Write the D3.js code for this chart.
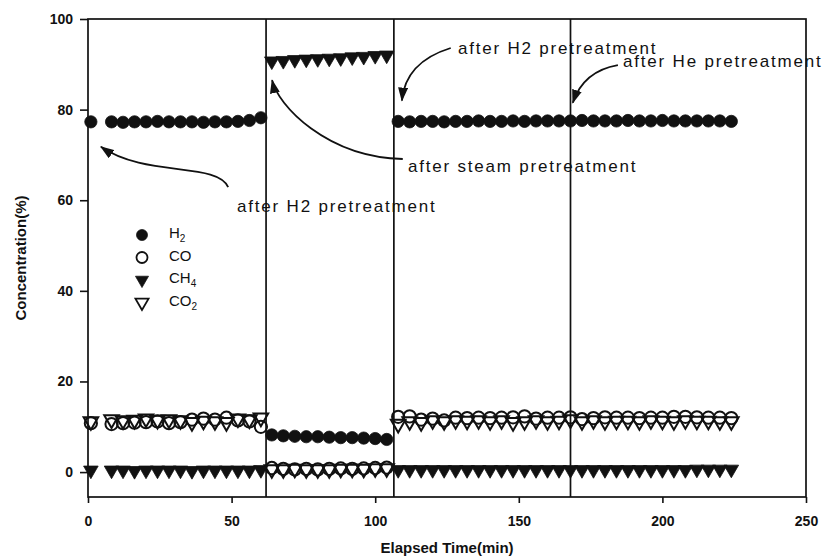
<!DOCTYPE html>
<html>
<head>
	<meta charset="UTF-8">
	<script src="https://d3js.org/d3.v7.min.js"></script>
	<style>
		body{ margin:0; background:#fff; }
		svg text{ font-family:"Liberation Sans", Arial, sans-serif; fill:#111; }
	</style>
</head>
<body>
<div id="chart"></div>
<script type="text/javascript">
// elapsed time of each sample (min)
var timeMin = [1, 8.2, 12.2, 16.2, 20.2, 24.2, 28.2, 32.2, 36.2, 40.2, 44.2, 48.2, 52.2, 56.2, 60.2,
	64, 68, 72, 76, 80, 84, 88, 92, 96, 100, 104,
	108, 112, 116, 120, 124, 128, 132, 136, 140, 144, 148, 152, 156, 160, 164, 168, 172, 176, 180,
	184, 188, 192, 196, 200, 204, 208, 212, 216, 220, 224];

var h2 = [77.3, 77.3, 77.2, 77.3, 77.3, 77.4, 77.3, 77.3, 77.3, 77.2, 77.3, 77.3, 77.4, 77.6, 78.2,
	8.2, 8.0, 7.9, 7.8, 7.8, 7.7, 7.6, 7.6, 7.5, 7.4, 7.2,
	77.4, 77.3, 77.4, 77.4, 77.3, 77.4, 77.4, 77.5, 77.4, 77.4, 77.5, 77.4, 77.5, 77.5, 77.5,
	77.5, 77.6, 77.5, 77.5, 77.5, 77.6, 77.5, 77.5, 77.6, 77.5, 77.5, 77.5, 77.5, 77.5, 77.4];

var co = [10.8, 10.6, 10.8, 10.9, 11.0, 11.2, 10.8, 11.0, 11.6, 11.8, 11.6, 12.0, 11.4, 11.2, 10.0,
	0.9, 0.7, 0.6, 0.7, 0.6, 0.7, 0.8, 0.7, 0.8, 0.9, 1.0,
	12.2, 12.3, 11.6, 11.8, 11.4, 12.0, 11.9, 12.0, 11.9, 12.0, 12.1, 12.3, 11.8, 12.0, 12.0,
	12.1, 11.7, 11.9, 12.1, 12.0, 12.0, 11.9, 12.0, 12.0, 12.2, 12.2, 12.1, 12.0, 12.0, 11.9];

var ch4 = [0.4, 0.4, 0.4, 0.3, 0.4, 0.4, 0.4, 0.4, 0.3, 0.4, 0.4, 0.4, 0.4, 0.4, 0.5,
	90.7, 90.8, 91.0, 91.1, 91.2, 91.3, 91.4, 91.6, 91.7, 91.9, 92.0,
	0.5, 0.5, 0.5, 0.5, 0.5, 0.5, 0.5, 0.5, 0.5, 0.5, 0.5, 0.5, 0.5, 0.5, 0.5,
	0.5, 0.5, 0.5, 0.5, 0.5, 0.5, 0.5, 0.5, 0.5, 0.5, 0.5, 0.6, 0.6, 0.6, 0.6];

var co2 = [11.2, 11.6, 11.4, 11.5, 11.8, 11.5, 11.6, 11.4, 11.0, 11.3, 11.2, 11.0, 11.8, 11.6, 12.0,
	0.6, 0.6, 0.7, 0.6, 0.6, 0.6, 0.7, 0.7, 0.7, 0.8, 0.8,
	10.6, 11.2, 11.0, 11.4, 11.2, 11.4, 11.3, 11.4, 11.2, 11.4, 11.0, 11.2, 11.4, 11.2, 11.3,
	11.6, 11.2, 11.4, 11.2, 11.3, 11.3, 11.2, 11.4, 11.3, 11.2, 11.4, 11.3, 11.3, 11.2, 11.2];

// time at which the gas feed was switched (vertical lines)
var switchTimes = [62, 106.5, 168];

var xTicks = [0, 50, 100, 150, 200, 250];
var yTicks = [0, 20, 40, 60, 80, 100];

var W = 826, H = 559;
var l = 88, r = 806, t = 19, b = 497;

var svg = d3.select("#chart").append("svg")
	.attr("width", W).attr("height", H);

var xScale = d3.scaleLinear().domain([0, 250]).range([l, r]);
var yScale = d3.scaleLinear().domain([-5.5, 100]).range([b, t]);

//axes
var xAxis = d3.axisBottom(xScale).tickValues(xTicks).tickSize(6).tickSizeOuter(0).tickPadding(13);
var yAxis = d3.axisLeft(yScale).tickValues(yTicks).tickSize(8).tickSizeOuter(0).tickPadding(7);

var gx = svg.append("g").attr("transform", "translate(0," + b + ")").call(xAxis);
var gy = svg.append("g").attr("transform", "translate(" + l + ",0)").call(yAxis);
[gx, gy].forEach(function(g){
	g.select(".domain").remove();
	g.selectAll("line").attr("stroke", "#111").attr("stroke-width", 1.6);
	g.selectAll("text").attr("font-size", "14px").attr("font-weight", "bold")
		.attr("font-family", "'Liberation Sans', Arial, sans-serif").attr("fill", "#111");
});

//frame
svg.append("rect").attr("x", l).attr("y", t).attr("width", r - l).attr("height", b - t)
	.attr("fill", "none").attr("stroke", "#111").attr("stroke-width", 1.7);

//switch lines
svg.selectAll("line.sw").data(switchTimes).enter().append("line")
	.attr("class", "sw")
	.attr("x1", function(d){ return xScale(d); })
	.attr("x2", function(d){ return xScale(d); })
	.attr("y1", t).attr("y2", b)
	.attr("stroke", "#111").attr("stroke-width", 1.7);

//markers
var circ = d3.symbol(d3.symbolCircle, 118)();
var tri = d3.symbol(d3.symbolTriangle, 92)();

var series = [
	{ name: "CO", vals: co, path: circ, rot: 0, fill: "none" },
	{ name: "CO2", vals: co2, path: tri, rot: 180, fill: "none" },
	{ name: "CH4", vals: ch4, path: tri, rot: 180, fill: "#111" },
	{ name: "H2", vals: h2, path: circ, rot: 0, fill: "#111" }
];

series.forEach(function(s){
	svg.append("g").selectAll("path")
		.data(s.vals)
		.enter()
		.append("path")
		.attr("d", s.path)
		.attr("transform", function(d, i){
			return "translate(" + xScale(timeMin[i]) + "," + yScale(d) + ") rotate(" + s.rot + ")";
		})
		.attr("fill", s.fill)
		.attr("stroke", "#111")
		.attr("stroke-width", s.fill == "none" ? 2 : 0.8);
});

//legend
var legend = [
	{ lab: "H", sub: "2", path: circ, rot: 0, fill: "#111" },
	{ lab: "CO", sub: "", path: circ, rot: 0, fill: "none" },
	{ lab: "CH", sub: "4", path: tri, rot: 180, fill: "#111" },
	{ lab: "CO", sub: "2", path: tri, rot: 180, fill: "none" }
];
var lg = svg.append("g");
legend.forEach(function(d, i){
	var yy = 235 + i * 22.5;
	lg.append("path").attr("d", d.path)
		.attr("transform", "translate(142," + yy + ") rotate(" + d.rot + ") scale(0.9)")
		.attr("fill", d.fill).attr("stroke", "#111").attr("stroke-width", d.fill == "none" ? 2 : 0.8);
	var tx = lg.append("text").attr("x", 169).attr("y", yy + 3).attr("font-size", "15px").text(d.lab);
	if(d.sub) tx.append("tspan").attr("dy", 4).attr("font-size", "10px").text(d.sub);
});

//annotations, positions in data units
svg.append("defs").append("marker")
	.attr("id", "head").attr("viewBox", "0 0 14 10")
	.attr("refX", 13).attr("refY", 5)
	.attr("markerWidth", 14).attr("markerHeight", 10)
	.attr("markerUnits", "userSpaceOnUse")
	.attr("orient", "auto")
	.append("path").attr("d", "M0,0 L14,5 L0,10 Z").attr("fill", "#111");

var notes = [
	{ txt: "after H2 pretreatment", tx: 128.8, ty: 92.3,
	  pts: [[126.3, 93.6], [110.5, 90.5], [109.3, 82.0]] },
	{ txt: "after He pretreatment", tx: 186.3, ty: 89.3,
	  pts: [[184.5, 89.8], [172.5, 88.5], [168.8, 81.5]] },
	{ txt: "after steam pretreatment", tx: 111.4, ty: 66.2,
	  pts: [[109.6, 69.1], [83, 69.5], [66, 81], [64.1, 86.5]] },
	{ txt: "after H2 pretreatment", tx: 51.9, ty: 57.4,
	  pts: [[48.8, 62.9], [45, 68.5], [20, 65], [4.5, 71.8]] }
];

notes.forEach(function(n){
	var p = n.pts.map(function(q){ return [xScale(q[0]), yScale(q[1])]; });
	var d = p.length == 3 ?
		"M" + p[0] + " Q" + p[1] + " " + p[2] :
		"M" + p[0] + " C" + p[1] + " " + p[2] + " " + p[3];
	svg.append("path").attr("d", d).attr("fill", "none")
		.attr("stroke", "#111").attr("stroke-width", 1.8)
		.attr("marker-end", "url(#head)");
	svg.append("text").attr("x", xScale(n.tx)).attr("y", yScale(n.ty))
		.attr("font-size", "17px").attr("letter-spacing", "1.8px").text(n.txt);
});

//axis titles
svg.append("text").attr("x", (l + r) / 2).attr("y", 553).attr("text-anchor", "middle")
	.attr("font-size", "15px").attr("font-weight", "bold").text("Elapsed Time(min)");
svg.append("text").attr("transform", "translate(26," + ((t + b) / 2) + ") rotate(-90)")
	.attr("text-anchor", "middle").attr("font-size", "15px").attr("font-weight", "bold").text("Concentration(%)");
</script>
</body>
</html>
